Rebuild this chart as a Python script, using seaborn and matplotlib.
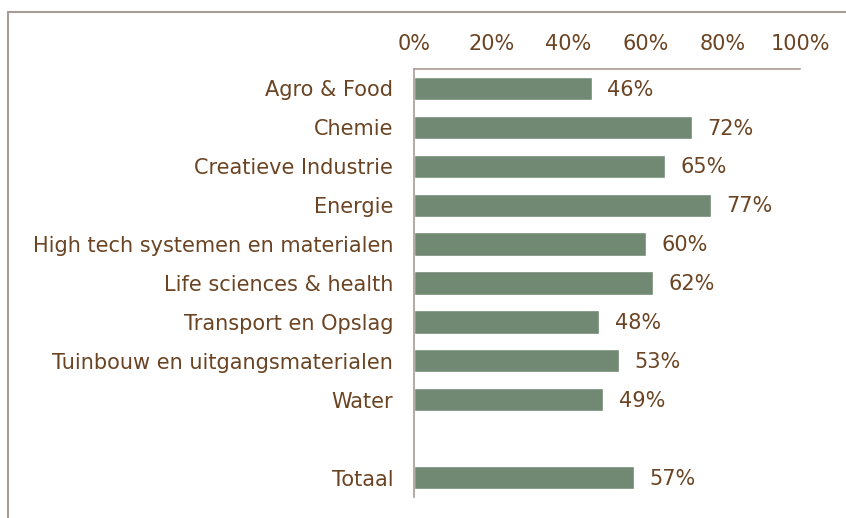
import matplotlib
matplotlib.use("Agg")
import matplotlib.pyplot as plt
import seaborn as sns
import pandas as pd
import numpy as np
from matplotlib.lines import Line2D

categories = ["Agro & Food", "Chemie", "Creatieve Industrie", "Energie",
              "High tech systemen en materialen", "Life sciences & health",
              "Transport en Opslag", "Tuinbouw en uitgangsmaterialen", "Water",
              " ", "Totaal"]
values = [46, 72, 65, 77, 60, 62, 48, 53, 49, np.nan, 57]
x_ticks = [0, 20, 40, 60, 80, 100]
x_tick_labels = ["0%", "20%", "40%", "60%", "80%", "100%"]

text_color = "#6B4423"
bar_color = "#718873"
line_color = "#A89C96"
fs = 15

sns.set_theme(style="white")
plt.rcParams['font.family'] = ['DejaVu Sans']

df = pd.DataFrame({"cat": categories, "val": values})

fig = plt.figure(figsize=(8.46, 5.18), dpi=100)
ax = fig.add_axes([414/846, 1 - 497/518, (800-414)/846, (497-69)/518])

sns.barplot(data=df.dropna(), x="val", y="cat", order=categories, orient="h",
            color=bar_color, saturation=1, width=0.6, ax=ax)

for p, v in zip(ax.patches, df.dropna()["val"]):
    ax.text(p.get_width() + 4, p.get_y() + p.get_height() / 2 + 0.03, f"{v:.0f}%",
            va="center", ha="left", fontsize=fs, color=text_color)

ax.set_xlim(0, 100)
ax.set_xticks(x_ticks)
ax.set_xticklabels(x_tick_labels)
ax.xaxis.tick_top()
ax.set_xlabel("")
ax.set_ylabel("")
ax.tick_params(axis="x", length=0, pad=11, labelsize=fs, labelcolor=text_color)
ax.tick_params(axis="y", length=0, pad=15, labelsize=fs, labelcolor=text_color)
for s in ["right", "bottom"]:
    ax.spines[s].set_visible(False)
for s in ["left", "top"]:
    ax.spines[s].set_color(line_color)
    ax.spines[s].set_linewidth(1.2)

# outer chart-area frame (top and left edges visible)
fig.add_artist(Line2D([8/846, 8/846], [0, 1 - 12/518], transform=fig.transFigure,
                      color=line_color, lw=1.5))
fig.add_artist(Line2D([8/846, 1], [1 - 12/518, 1 - 12/518], transform=fig.transFigure,
                      color=line_color, lw=1.5))

fig.savefig("out.png", dpi=100)
